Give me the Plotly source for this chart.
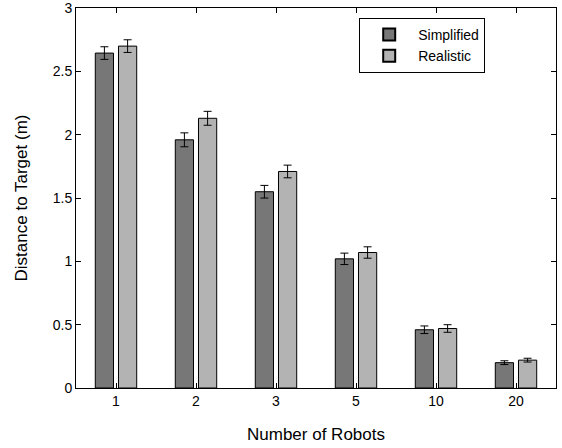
import plotly.graph_objects as go

categories = ["1", "2", "3", "5", "10", "20"]
simplified = [2.645, 1.96, 1.55, 1.02, 0.46, 0.20]
simplified_err = [0.05, 0.055, 0.05, 0.045, 0.03, 0.015]
realistic = [2.70, 2.13, 1.71, 1.07, 0.47, 0.22]
realistic_err = [0.05, 0.055, 0.05, 0.045, 0.03, 0.015]
y_ticks = [0, 0.5, 1, 1.5, 2, 2.5, 3]
y_tick_labels = ["0", "0.5", "1", "1.5", "2", "2.5", "3"]

fig = go.Figure()
fig.add_trace(go.Bar(
    x=categories, y=simplified, name="Simplified",
    marker=dict(color="#777777", line=dict(color="black", width=1)),
    error_y=dict(type="data", array=simplified_err, color="black", thickness=1, width=4),
))
fig.add_trace(go.Bar(
    x=categories, y=realistic, name="Realistic",
    marker=dict(color="#b3b3b3", line=dict(color="black", width=1)),
    error_y=dict(type="data", array=realistic_err, color="black", thickness=1, width=4),
))

font = dict(family="Liberation Sans, Arial, sans-serif", size=14, color="black")
fig.update_layout(
    width=562, height=448,
    margin=dict(l=76, r=6, t=8, b=60, autoexpand=False),
    paper_bgcolor="white", plot_bgcolor="white",
    barmode="group", bargap=0.42, bargroupgap=0.215,
    font=font,
    showlegend=True,
    legend=dict(x=0.59, y=0.974, xanchor="left", yanchor="top",
                bgcolor="white", bordercolor="black", borderwidth=1,
                font=dict(family="Liberation Sans, Arial, sans-serif", size=14, color="black"),
                tracegroupgap=0, itemsizing="constant", itemwidth=48),
    xaxis=dict(
        type="category", range=[-0.5, 5.5], automargin=False,
        showline=True, linecolor="black", linewidth=1, mirror="ticks",
        ticks="inside", ticklen=5, tickcolor="black",
        showgrid=False, zeroline=False,
        title=dict(text="Number of Robots", standoff=20),
    ),
    yaxis=dict(
        range=[0, 3.001], tickvals=y_ticks, ticktext=y_tick_labels, automargin=False,
        showline=True, linecolor="black", linewidth=1, mirror="ticks",
        ticks="inside", ticklen=5, tickcolor="black",
        showgrid=False, zeroline=False,
        title=dict(text="Distance to Target (m)", standoff=20),
    ),
)

fig.write_html("out.html", config={"displayModeBar": False},
               post_script="document.body.style.margin='0';")
